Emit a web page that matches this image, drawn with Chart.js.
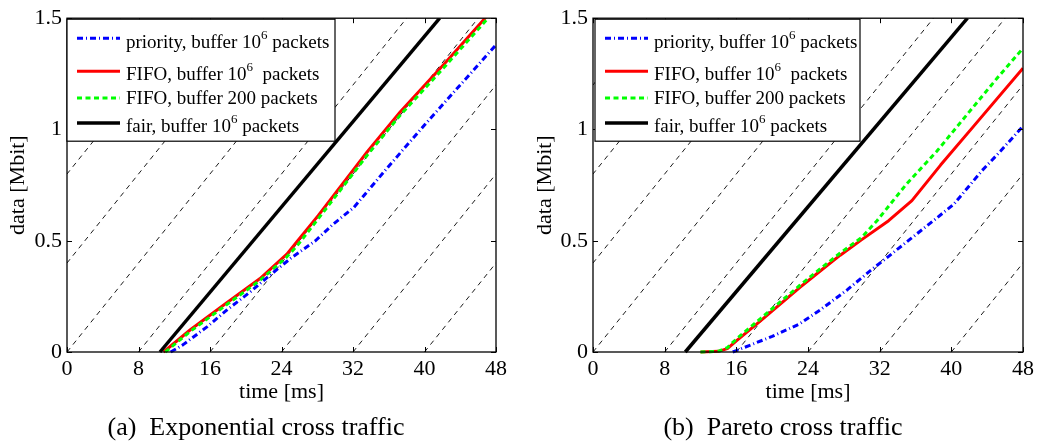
<!DOCTYPE html>
<html><head><meta charset="utf-8">
<script src="https://cdn.jsdelivr.net/npm/chart.js@4.4.1/dist/chart.umd.min.js"></script>
<style>
html,body{margin:0;padding:0;background:#fff;}
#wrap{position:relative;width:1041px;height:442px;overflow:hidden;background:#fff;}
canvas{position:absolute;top:0;}
.cap{position:absolute;top:412px;font-family:'Liberation Serif',serif;font-size:26px;white-space:pre;transform:translateX(-50%);line-height:30px;color:#000;}
</style></head><body>
<div id="wrap">
<canvas id="c1" width="520" height="442" style="left:0"></canvas>
<canvas id="c2" width="521" height="442" style="left:520px"></canvas>
<div class="cap" style="left:256px">(a)  Exponential cross traffic</div>
<div class="cap" style="left:783px">(b)  Pareto cross traffic</div>
</div>
<script>
// ---- tick labels ----
const timeTicks = [0, 8, 16, 24, 32, 40, 48];
const dataTicks = [0, 0.5, 1, 1.5];

// ---- legend text: [main, superscript, rest] ----
const legendTexts = [
  ['priority, buffer 10', '6', ' packets'],
  ['FIFO, buffer 10', '6', '  packets'],
  ['FIFO, buffer 200 packets', '', ''],
  ['fair, buffer 10', '6', ' packets']
];

// ---- reference (dashed) lines: time at 0 Mbit and time at 1.5 Mbit ----
const refStartTime = [-24, -16, -8, 0, 8, 16, 24, 32, 40];
const refEndTime   = [  6,  14, 22, 30, 38, 46, 54, 62, 70];

// ---- (a) Exponential cross traffic: [time ms, data Mbit] ----
const expPriority = [[11.6,0],[13,0.033],[15.7,0.114],[17.9,0.189],[20.5,0.27],[22.7,0.345],[25,0.42],[27.8,0.5],[29.8,0.575],[32.1,0.65],[36,0.835],[40,1.02],[44,1.2],[48,1.38]];
const expFifo     = [[10.8,0],[13.8,0.1],[17.5,0.21],[21.6,0.33],[24.6,0.44],[25.7,0.494],[28.1,0.613],[33.6,0.9],[37.3,1.08],[42.1,1.29],[48,1.555]];
const expFifo200  = [[11.0,0],[13.8,0.093],[17.5,0.202],[21.6,0.322],[24.6,0.428],[25.7,0.475],[28.1,0.598],[33.6,0.885],[37.3,1.065],[42.1,1.275],[48,1.54]];
const expFair     = [[10.4,0],[41.7,1.5]];

// ---- (b) Pareto cross traffic ----
const parPriority = [[15.6,0],[17.5,0.03],[20,0.07],[23,0.125],[25.4,0.19],[28.4,0.28],[31,0.367],[33,0.43],[35.4,0.507],[38,0.59],[40.3,0.665],[43.4,0.814],[45.5,0.903],[48,1.015]];
const parFifo     = [[12,0],[14,0.003],[15,0.015],[16,0.05],[18.7,0.14],[20.9,0.215],[23.1,0.29],[25.4,0.365],[27.6,0.435],[30,0.505],[33,0.59],[35.6,0.68],[38.8,0.84],[42.5,1.015],[48,1.275]];
const parFifo200  = [[12,0],[14,0.003],[15,0.02],[16,0.058],[18.7,0.15],[20.9,0.225],[23.1,0.3],[25.4,0.375],[27.6,0.445],[30,0.515],[31.7,0.59],[35,0.755],[38.4,0.903],[41.75,1.067],[45.1,1.23],[48,1.365]];
const parFair     = [[10.3,0],[41.8,1.5]];

const FONT = "'Liberation Serif', 'Times New Roman', serif";
const pts = a => a.map(p => ({x: p[0], y: p[1]}));

const styles = [
  {color:'#0000ff', width:3, dash:[6,3,1,3], order:1},   // priority
  {color:'#ff0000', width:3, dash:[], order:3},          // FIFO 1e6
  {color:'#00ff00', width:3, dash:[5,3.5], order:2},     // FIFO 200
  {color:'#000000', width:3.5, dash:[], order:0}         // fair
];

const frameTicksPlugin = {
  id: 'frameTicks',
  afterDatasetsDraw(chart) {
    const ctx = chart.ctx, ca = chart.chartArea;
    const xs = chart.scales.x, ys = chart.scales.y;
    ctx.save();
    ctx.strokeStyle = '#000'; ctx.lineWidth = 1; ctx.setLineDash([]);
    ctx.beginPath();
    timeTicks.forEach(v => {
      const px = Math.round(xs.getPixelForValue(v)) + 0.5;
      ctx.moveTo(px, ca.bottom); ctx.lineTo(px, ca.bottom - 5);
      ctx.moveTo(px, ca.top); ctx.lineTo(px, ca.top + 5);
    });
    dataTicks.forEach(v => {
      const py = Math.round(ys.getPixelForValue(v)) + 0.5;
      ctx.moveTo(ca.left, py); ctx.lineTo(ca.left + 5, py);
      ctx.moveTo(ca.right, py); ctx.lineTo(ca.right - 5, py);
    });
    ctx.stroke();
    ctx.lineWidth = 1.3;
    ctx.strokeRect(ca.left, ca.top, ca.right - ca.left, ca.bottom - ca.top);
    ctx.restore();
  }
};

const legendPlugin = {
  id: 'boxLegend',
  afterDraw(chart, args, opts) {
    const ctx = chart.ctx, ca = chart.chartArea;
    const x0 = ca.left + opts.dx, y0 = ca.top + opts.dy, w = opts.w, h = opts.h;
    ctx.save();
    ctx.fillStyle = '#fff'; ctx.fillRect(x0, y0, w, h);
    ctx.strokeStyle = '#000'; ctx.lineWidth = 1.2; ctx.setLineDash([]);
    ctx.strokeRect(x0, y0, w, h);
    const sampleY = [19, 52, 78.7, 103.7];
    const baseY = [29, 60.3, 84.7, 113];
    legendTexts.forEach((t, i) => {
      const ds = chart.data.datasets[i];
      ctx.beginPath();
      ctx.strokeStyle = ds.borderColor; ctx.lineWidth = ds.borderWidth;
      ctx.setLineDash(ds.borderDash || []);
      ctx.moveTo(x0 + 10, y0 + sampleY[i]); ctx.lineTo(x0 + 53, y0 + sampleY[i]);
      ctx.stroke();
      ctx.setLineDash([]);
      ctx.fillStyle = '#000'; ctx.textBaseline = 'alphabetic'; ctx.textAlign = 'left';
      let x = x0 + 59; const by = y0 + baseY[i];
      ctx.font = '19px ' + FONT;
      ctx.fillText(t[0], x, by); x += ctx.measureText(t[0]).width;
      if (t[1]) {
        ctx.font = '13px ' + FONT;
        ctx.fillText(t[1], x, by - 9); x += ctx.measureText(t[1]).width;
        ctx.font = '19px ' + FONT;
        ctx.fillText(t[2], x, by);
      }
    });
    ctx.restore();
  }
};

function makeChart(id, series, geo) {
  const datasets = series.map((s, i) => ({
    label: legendTexts[i].join(''),
    data: pts(s),
    borderColor: styles[i].color,
    borderWidth: styles[i].width,
    borderDash: styles[i].dash,
    borderCapStyle: 'butt',
    borderJoinStyle: 'round',
    pointRadius: 0,
    fill: false,
    tension: 0,
    order: styles[i].order,
    clip: {left: 0, top: 0, right: 0, bottom: 2}
  }));
  refStartTime.forEach((t0, k) => {
    datasets.push({
      label: 'ref' + k,
      data: [{x: t0, y: 0}, {x: refEndTime[k], y: 1.5}],
      borderColor: '#000', borderWidth: 0.9, borderDash: [5, 4.5],
      pointRadius: 0, fill: false, tension: 0, order: 10,
      clip: 0
    });
  });
  return new Chart(document.getElementById(id), {
    type: 'line',
    data: {datasets},
    plugins: [frameTicksPlugin, legendPlugin],
    options: {
      responsive: false, animation: false, devicePixelRatio: 1, events: [],
      layout: {padding: {left: 0, right: geo.padRight, top: 16, bottom: 0}},
      plugins: {
        legend: {display: false}, tooltip: {enabled: false},
        boxLegend: {dx: geo.legDx, dy: 1, w: geo.legW, h: 122}
      },
      scales: {
        x: {
          type: 'linear', min: 0, max: 48,
          afterBuildTicks: s => { s.ticks = timeTicks.map(v => ({value: v})); },
          afterFit: s => { s.height = 90; },
          grid: {display: false, drawTicks: false}, border: {display: false},
          ticks: {font: {family: FONT, size: 22}, color: '#000', padding: 4, maxRotation: 0, autoSkip: false},
          title: {display: true, text: 'time [ms]', color: '#000', font: {family: FONT, size: 22}, padding: {top: 0, bottom: 37}}
        },
        y: {
          type: 'linear', min: 0, max: 1.5,
          afterBuildTicks: s => { s.ticks = dataTicks.map(v => ({value: v})); },
          afterFit: s => { s.width = geo.yWidth; },
          grid: {display: false, drawTicks: false}, border: {display: false},
          ticks: {font: {family: FONT, size: 22}, color: '#000', padding: 5, callback: v => String(v)},
          title: {display: true, text: 'data [Mbit]', color: '#000', font: {family: FONT, size: 22}, padding: {top: geo.yTitlePad, bottom: 0}}
        }
      }
    }
  });
}

makeChart('c1', [expPriority, expFifo, expFifo200, expFair], {padRight: 24, yWidth: 67, yTitlePad: 5, legDx: 0, legW: 268});
makeChart('c2', [parPriority, parFifo, parFifo200, parFair], {padRight: 18, yWidth: 73, yTitlePad: 12, legDx: 2, legW: 265});
</script>
</body></html>
